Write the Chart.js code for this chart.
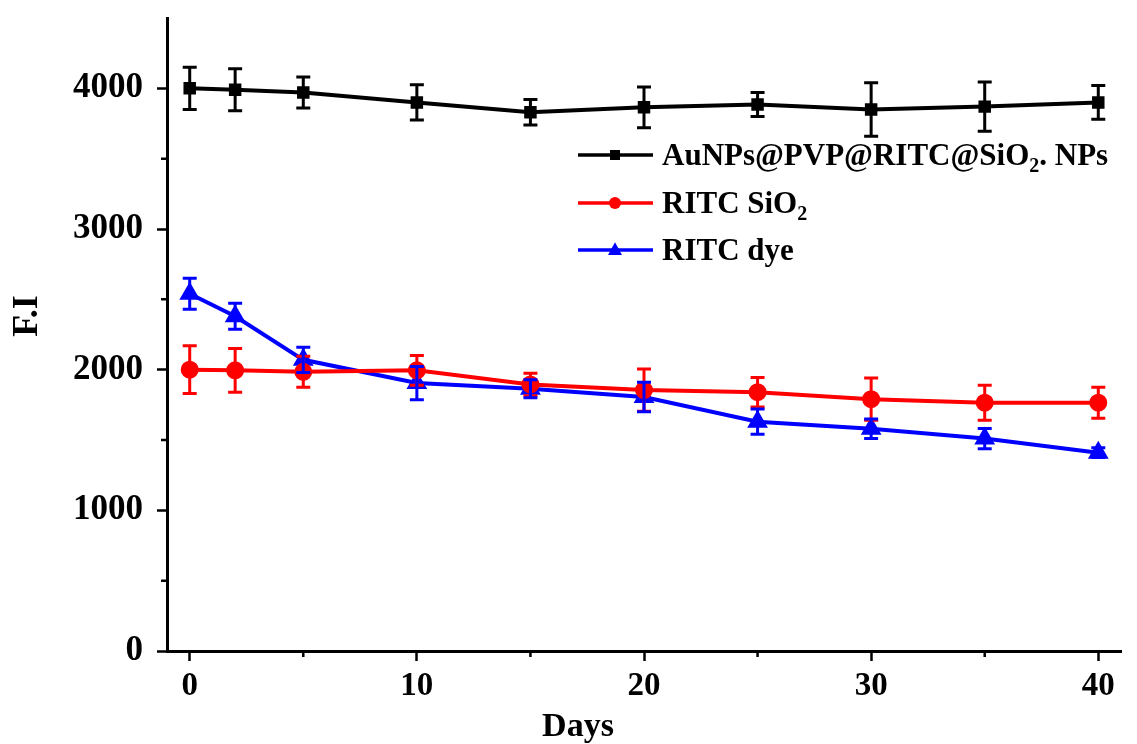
<!DOCTYPE html>
<html>
<head>
<meta charset="utf-8">
<script src="https://cdn.jsdelivr.net/npm/chart.js@4.4.0/dist/chart.umd.min.js"></script>
<style>
  body { margin: 0; background: #fff; }
  #wrap { width: 1137px; height: 744px; }
</style>
</head>
<body>
<div id="wrap"><canvas id="fiCanvas" width="1137" height="744"></canvas></div>
<script>
const days = [0, 2, 5, 10, 15, 20, 25, 30, 35, 40];

const auValues = [4000, 3990, 3970, 3900, 3830, 3865, 3885, 3850, 3870, 3900];
const auErrors = [150, 150, 110, 125, 90, 145, 85, 190, 175, 120];

const sio2Values = [2000, 1995, 1985, 1995, 1895, 1855, 1840, 1790, 1765, 1765];
const sio2Errors = [170, 155, 110, 105, 80, 150, 105, 150, 125, 110];

const dyeValues = [2540, 2380, 2070, 1905, 1865, 1805, 1630, 1580, 1510, 1410];
const dyeErrors = [110, 92, 90, 118, 64, 105, 90, 70, 72, 35];

const xTicks = [0, 10, 20, 30, 40];
const xMinorTicks = [5, 15, 25, 35];
const yTicks = [0, 1000, 2000, 3000, 4000];
const yMinorTicks = [500, 1500, 2500, 3500];

const serif = "'Liberation Serif', 'Times New Roman', serif";

function toPoints(values) {
    return days.map((d, i) => ({ x: d, y: values[i] }));
}

// error bars, drawn with the chart's own scales
const errorBars = {
    id: "errorBars",
    afterDatasetsDraw(chart) {
        const ctx = chart.ctx;
        const xScale = chart.scales.x;
        const yScale = chart.scales.y;
        chart.data.datasets.forEach((ds) => {
            ctx.save();
            ctx.strokeStyle = ds.borderColor;
            ctx.lineWidth = 3;
            ds.data.forEach((p, i) => {
                const err = ds.errors[i];
                const px = xScale.getPixelForValue(p.x);
                const top = yScale.getPixelForValue(p.y + err);
                const bot = yScale.getPixelForValue(p.y - err);
                ctx.beginPath();
                ctx.moveTo(px, top);
                ctx.lineTo(px, bot);
                ctx.moveTo(px - 7, top);
                ctx.lineTo(px + 7, top);
                ctx.moveTo(px - 7, bot);
                ctx.lineTo(px + 7, bot);
                ctx.stroke();
            });
            ctx.restore();
        });
    },
};

// minor ticks and the two axis titles
const axisExtras = {
    id: "axisExtras",
    afterDraw(chart) {
        const ctx = chart.ctx;
        const area = chart.chartArea;
        ctx.save();
        ctx.strokeStyle = "#000";
        ctx.lineWidth = 2.5;
        ctx.beginPath();
        yMinorTicks.forEach((v) => {
            const py = chart.scales.y.getPixelForValue(v);
            ctx.moveTo(area.left - 6, py);
            ctx.lineTo(area.left, py);
        });
        xMinorTicks.forEach((v) => {
            const px = chart.scales.x.getPixelForValue(v);
            ctx.moveTo(px, area.bottom);
            ctx.lineTo(px, area.bottom + 6);
        });
        ctx.stroke();

        ctx.fillStyle = "#000";
        ctx.textAlign = "center";
        ctx.textBaseline = "alphabetic";
        ctx.font = "bold 34px " + serif;
        ctx.fillText("Days", 578, 736);

        ctx.translate(37, 316);
        ctx.rotate(-Math.PI / 2);
        ctx.font = "bold 36px " + serif;
        ctx.fillText("F.I", 0, 0);
        ctx.restore();
    },
};

function drawMarker(ctx, style, x, y, r) {
    ctx.beginPath();
    if (style === "rect") {
        ctx.rect(x - r, y - r, 2 * r, 2 * r);
    } else if (style === "triangle") {
        ctx.moveTo(x, y - r * 1.1);
        ctx.lineTo(x + r, y + r * 0.7);
        ctx.lineTo(x - r, y + r * 0.7);
        ctx.closePath();
    } else {
        ctx.arc(x, y, r, 0, Math.PI * 2);
    }
    ctx.fill();
}

// legend inside the plot, with subscripts
const insideLegend = {
    id: "insideLegend",
    afterDraw(chart) {
        const ctx = chart.ctx;
        const rows = [
            { y: 155, parts: [["AuNPs@PVP@RITC@SiO", false], ["2", true], [". NPs", false]] },
            { y: 203, parts: [["RITC SiO", false], ["2", true]] },
            { y: 250, parts: [["RITC dye", false]] },
        ];
        ctx.save();
        chart.data.datasets.forEach((ds, i) => {
            const row = rows[i];
            ctx.strokeStyle = ds.borderColor;
            ctx.fillStyle = ds.borderColor;
            ctx.lineWidth = 3.5;
            ctx.beginPath();
            ctx.moveTo(578, row.y);
            ctx.lineTo(653, row.y);
            ctx.stroke();
            drawMarker(ctx, ds.pointStyle, 615, row.y, ds.legendRadius);
            let tx = 662;
            ctx.fillStyle = "#000";
            ctx.textBaseline = "alphabetic";
            row.parts.forEach(([text, sub]) => {
                ctx.font = sub ? "bold 20px " + serif : "bold 31px " + serif;
                ctx.fillText(text, tx, row.y + 10 + (sub ? 7 : 0));
                tx += ctx.measureText(text).width;
            });
        });
        ctx.restore();
    },
};

const data = {
    datasets: [
        {
            label: "AuNPs@PVP@RITC@SiO2. NPs",
            data: toPoints(auValues),
            errors: auErrors,
            borderColor: "#000000",
            backgroundColor: "#000000",
            pointStyle: "rect",
            pointRadius: 6,
            legendRadius: 5,
            borderWidth: 4,
        },
        {
            label: "RITC SiO2",
            data: toPoints(sio2Values),
            errors: sio2Errors,
            borderColor: "#ff0000",
            backgroundColor: "#ff0000",
            pointStyle: "circle",
            pointRadius: 7,
            legendRadius: 6,
            borderWidth: 4,
        },
        {
            label: "RITC dye",
            data: toPoints(dyeValues),
            errors: dyeErrors,
            borderColor: "#0000ff",
            backgroundColor: "#0000ff",
            pointStyle: "triangle",
            pointRadius: 8,
            legendRadius: 7,
            borderWidth: 4,
        },
    ],
};

const config = {
    type: "line",
    data: data,
    options: {
        responsive: false,
        animation: false,
        devicePixelRatio: 1,
        layout: { padding: { left: 0, right: 16, top: 18, bottom: 0 } },
        plugins: {
            legend: { display: false },
            tooltip: { enabled: false },
        },
        elements: { line: { tension: 0 } },
        scales: {
            x: {
                type: "linear",
                min: -1,
                max: 41,
                afterBuildTicks: (scale) => {
                    scale.ticks = xTicks.map((v) => ({ value: v }));
                },
                afterFit: (scale) => {
                    scale.height = 93;
                    scale.paddingLeft = 0;
                    scale.paddingRight = 0;
                },
                grid: {
                    drawOnChartArea: false,
                    drawTicks: true,
                    tickLength: 10,
                    tickWidth: 2.5,
                    tickColor: "#000",
                },
                border: { display: true, color: "#000", width: 3 },
                ticks: {
                    color: "#000",
                    padding: 6,
                    maxRotation: 0,
                    callback: (value) => String(value),
                    font: { family: serif, size: 33, weight: "bold" },
                },
            },
            y: {
                min: 0,
                max: 4500,
                afterBuildTicks: (scale) => {
                    scale.ticks = yTicks.map((v) => ({ value: v }));
                },
                afterFit: (scale) => {
                    scale.width = 167;
                    scale.paddingTop = 0;
                    scale.paddingBottom = 0;
                },
                grid: {
                    drawOnChartArea: false,
                    drawTicks: true,
                    tickLength: 10,
                    tickWidth: 2.5,
                    tickColor: "#000",
                },
                border: { display: true, color: "#000", width: 3 },
                ticks: {
                    color: "#000",
                    padding: 14,
                    callback: (value) => String(value),
                    font: { family: serif, size: 35, weight: "bold" },
                },
            },
        },
    },
    plugins: [errorBars, axisExtras, insideLegend],
};

const fiChart = new Chart(document.getElementById("fiCanvas"), config);
</script>
</body>
</html>
